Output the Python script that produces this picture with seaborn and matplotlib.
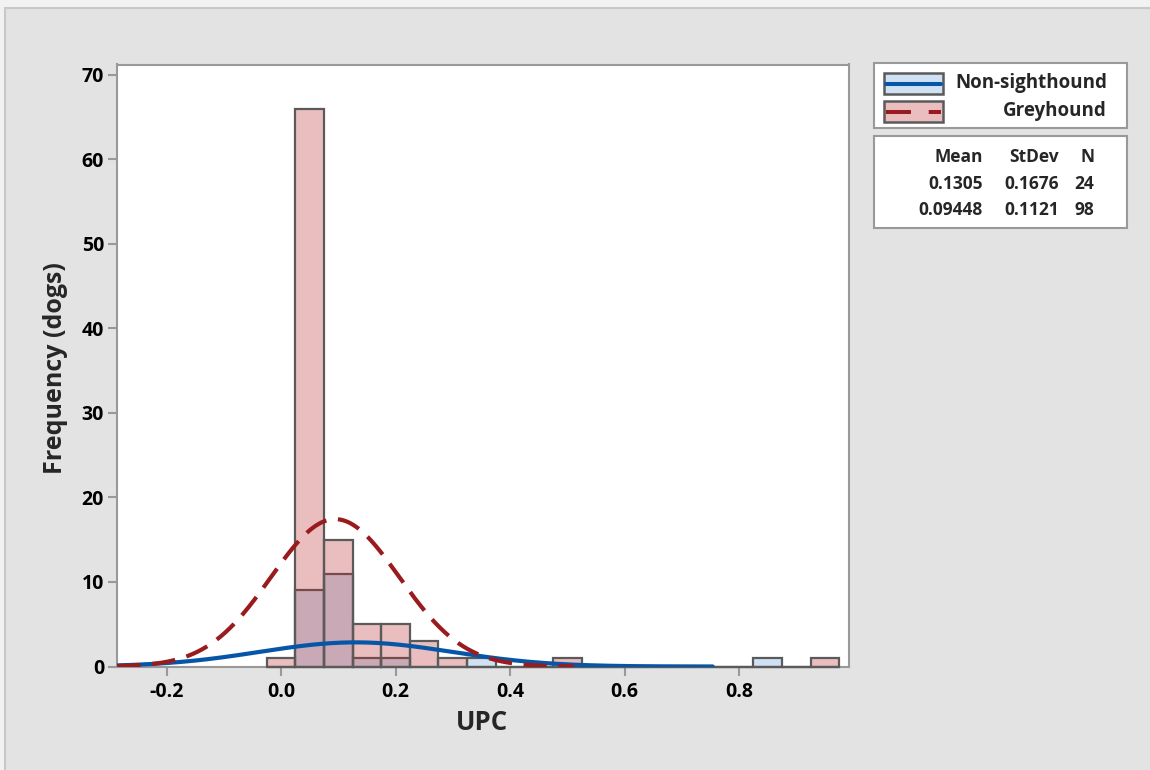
import numpy as np
import pandas as pd
import matplotlib
matplotlib.use("Agg")
import matplotlib.pyplot as plt
from matplotlib.patches import Rectangle
from matplotlib.lines import Line2D
from matplotlib.colors import to_rgba
import seaborn as sns

# ---------------- data ----------------
bin_centers = [0.00, 0.05, 0.10, 0.15, 0.20, 0.25, 0.30, 0.35, 0.40, 0.45,
               0.50, 0.55, 0.60, 0.65, 0.70, 0.75, 0.80, 0.85, 0.90, 0.95]
non_sighthound_counts = [0, 9, 11, 1, 1, 0, 0, 1, 0, 0,
                         0, 0, 0, 0, 0, 0, 0, 1, 0, 0]
greyhound_counts = [1, 66, 15, 5, 5, 3, 1, 0, 0, 0,
                    1, 0, 0, 0, 0, 0, 0, 0, 0, 1]
group_names = ["Non-sighthound", "Greyhound"]
means = [0.1305, 0.09448]
stdevs = [0.1676, 0.1121]
ns = [24, 98]
mean_labels = ["0.1305", "0.09448"]
stdev_labels = ["0.1676", "0.1121"]
n_labels = ["24", "98"]
x_ticks = [-0.2, 0.0, 0.2, 0.4, 0.6, 0.8]
y_ticks = [0, 10, 20, 30, 40, 50, 60, 70]
bin_width = 0.05

# ---------------- style ----------------
sns.set_theme(style="white")
plt.rcParams["font.family"] = ["Open Sans", "DejaVu Sans"]
FW = "bold"

W, H = 1150, 770
fig = plt.figure(figsize=(W / 100, H / 100), dpi=100)
fig.patch.set_facecolor("#F2F2F2")


def fx(x):
    return x / W


def fy(y):
    return 1 - y / H


# background panel with thin border
fig.add_artist(Rectangle((fx(5), -0.01), 1.02, fy(8) + 0.01, transform=fig.transFigure,
                         facecolor="#E3E3E3", edgecolor="#C8C8C8", linewidth=1.5, zorder=0))

ax = fig.add_axes([fx(117.3), fy(666.5), fx(849) - fx(117.3), fy(64.5) - fy(666.5)])
ax.set_facecolor("white")

alpha = 0.3
blue_fill = "#629ED4"
pink_fill = "#BC2A2D"
edge_col = "#5A5A5A"
blue_line = "#0656A8"
red_line = "#9A1B1E"

n_bins = len(bin_centers)
bin_range = (bin_centers[0] - bin_width / 2, bin_centers[-1] + bin_width / 2)

df_ns = pd.DataFrame({"UPC": bin_centers, "count": non_sighthound_counts})
df_g = pd.DataFrame({"UPC": bin_centers, "count": greyhound_counts})

sns.histplot(data=df_ns, x="UPC", weights="count", bins=n_bins, binrange=bin_range,
             color=blue_fill, alpha=alpha, edgecolor=edge_col, linewidth=1.6, ax=ax)
sns.histplot(data=df_g, x="UPC", weights="count", bins=n_bins, binrange=bin_range,
             color=pink_fill, alpha=alpha, edgecolor=edge_col, linewidth=1.6, ax=ax)
for p in ax.patches:
    p.set_zorder(3)
    p.set_clip_on(False)

xmin, xmax = -0.286, 0.992
ymin, ymax = 0, 71.24

# fitted normal curves scaled to counts
for m, s, n, col, ls in zip(means, stdevs, ns, [blue_line, red_line],
                            ["-", (0, (5.6, 2.8))]):
    xs = np.linspace(max(xmin, m - 3.72 * s), m + 3.72 * s, 400)
    ys = n * bin_width * np.exp(-0.5 * ((xs - m) / s) ** 2) / (s * np.sqrt(2 * np.pi))
    ax.plot(xs, ys, color=col, lw=3.0, linestyle=ls, zorder=5)

ax.set_xlim(xmin, xmax)
ax.set_ylim(ymin, ymax)
ax.set_xticks(x_ticks)
ax.set_xticklabels([f"{t:.1f}" for t in x_ticks])
ax.set_yticks(y_ticks)
ax.set_yticklabels([str(t) for t in y_ticks])
for sp in ax.spines.values():
    sp.set_color("#999999")
    sp.set_linewidth(1.5)
    sp.set_zorder(2)
ax.tick_params(axis="both", which="both", direction="out", length=6.5, width=1.5,
               color="#999999", labelsize=14, labelcolor="black")
ax.tick_params(axis="x", pad=5, bottom=True)
ax.tick_params(axis="y", pad=3, left=True)
for lab in ax.get_xticklabels() + ax.get_yticklabels():
    lab.set_fontweight(FW)
ax.set_xlabel("")
ax.set_ylabel("")
fig.text(fx(482), fy(723), "UPC", ha="center", va="center", fontsize=18.5, fontweight=FW)
fig.text(fx(55), fy(368), "Frequency (dogs)", ha="center", va="center", rotation=90,
         fontsize=18, fontweight=FW)

# ---------------- legend boxes ----------------
def box(x0, y0, x1, y1, fc="white", ec="#999999", lw=1.5, z=10):
    fig.add_artist(Rectangle((fx(x0), fy(y1)), fx(x1) - fx(x0), fy(y0) - fy(y1),
                             transform=fig.transFigure, facecolor=fc, edgecolor=ec,
                             linewidth=lw, zorder=z))

box(874, 63, 1127, 128)
box(874, 135.5, 1127, 227.5)

box(884, 73, 943, 94, fc=to_rgba(blue_fill, alpha), ec=edge_col, lw=1.8, z=11)
box(884, 101, 943, 122, fc=to_rgba(pink_fill, alpha), ec=edge_col, lw=1.8, z=11)
fig.add_artist(Line2D([fx(886), fx(941)], [fy(83.5), fy(83.5)], color=blue_line, lw=2.9,
                      transform=fig.transFigure, zorder=12))
fig.add_artist(Line2D([fx(886), fx(941)], [fy(111.5), fy(111.5)], color=red_line, lw=2.9,
                      linestyle=(0, (6.2, 4.4)), transform=fig.transFigure, zorder=12))

fig.text(fx(1107), fy(83), group_names[0], ha="right", va="center", fontsize=13.5,
         fontweight=FW, zorder=12)
fig.text(fx(1107), fy(111), group_names[1], ha="right", va="center", fontsize=13.5,
         fontweight=FW, zorder=12)

col_x = [983, 1059, 1094]
for txt, x in zip(["Mean", "StDev", "N"], col_x):
    fig.text(fx(x), fy(157), txt, ha="right", va="center", fontsize=12.5,
             fontweight=FW, zorder=12)
for row_y, vals in zip([184, 210], zip(mean_labels, stdev_labels, n_labels)):
    for txt, x in zip(vals, col_x):
        fig.text(fx(x), fy(row_y), txt, ha="right", va="center", fontsize=12.5,
                 fontweight=FW, zorder=12)

fig.savefig("out.png", dpi=100, facecolor=fig.get_facecolor())
